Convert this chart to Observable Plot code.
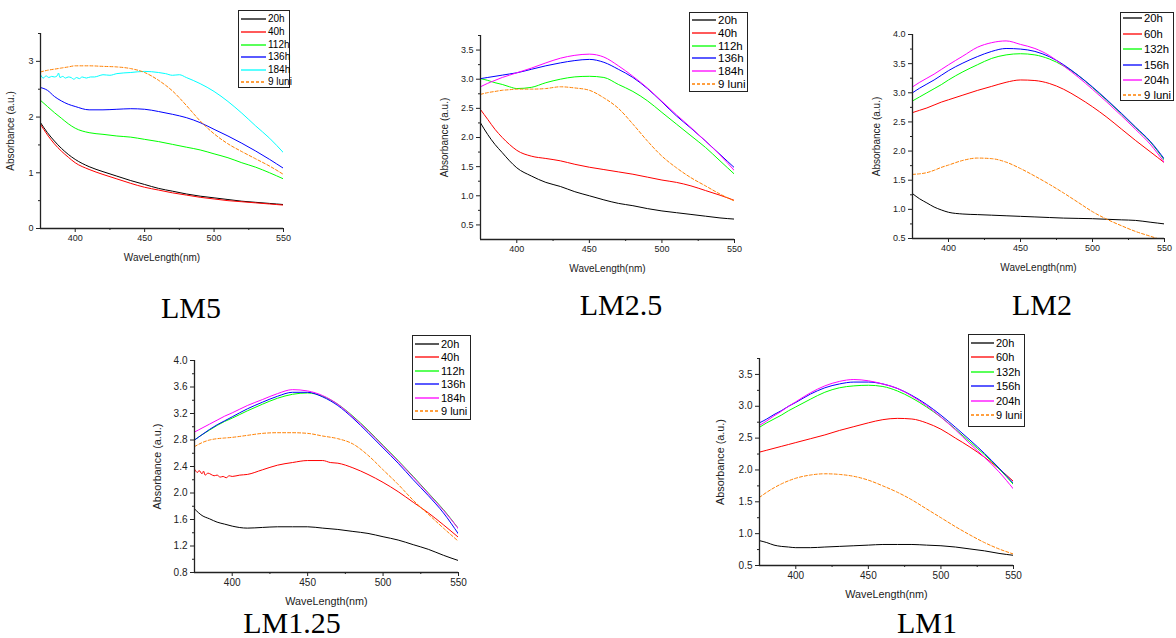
<!DOCTYPE html>
<html><head><meta charset="utf-8">
<script src="https://cdn.jsdelivr.net/npm/d3@7"></script>
<script src="https://cdn.jsdelivr.net/npm/@observablehq/plot@0.6"></script>
<style>
body{margin:0;background:#fff;}
#root{position:relative;width:1176px;height:638px;overflow:hidden;background:#fff;font-family:"Liberation Sans",Arial,sans-serif;}
.panel{position:absolute;}
.legend{position:absolute;border:1px solid #222;background:#fff;box-sizing:border-box;color:#000;}
.legend .row{position:absolute;left:0;display:flex;align-items:center;white-space:nowrap;}
.title{position:absolute;font-family:"Liberation Serif","Times New Roman",serif;font-size:30px;line-height:30px;transform:translateX(-50%);white-space:nowrap;color:#000;}
</style>
</head><body>
<div id="root"></div>
<script>
// ---------- data ----------
const wl = [375,380,385,390,395,400,410,420,430,440,450,460,470,480,490,500,510,520,530,540,550];
const xTicks = [400,450,500,550];
const xMinor = [425,475,525];

// LM5
const lm5Names = ["20h","40h","112h","136h","184h","9 luni"];
const lm5_20h  = [1.90,1.72,1.57,1.44,1.33,1.24,1.11,1.02,0.94,0.86,0.79,0.72,0.67,0.62,0.58,0.55,0.52,0.49,0.47,0.45,0.43];
const lm5_40h  = [1.87,1.68,1.52,1.39,1.28,1.18,1.06,0.97,0.89,0.81,0.74,0.69,0.64,0.60,0.56,0.53,0.50,0.48,0.46,0.44,0.42];
const lm5_112h = [2.30,2.19,2.08,1.98,1.88,1.80,1.72,1.69,1.66,1.64,1.60,1.56,1.51,1.46,1.41,1.34,1.27,1.18,1.10,1.00,0.89];
const lm5_136h = [2.53,2.48,2.37,2.29,2.23,2.19,2.13,2.13,2.14,2.15,2.14,2.10,2.05,1.99,1.90,1.78,1.66,1.53,1.39,1.24,1.08];
const lm5_184h_wl = [375,377,379,381,383,385,387,388,389,391,393,395,397,399,401,403,405,408,411,414,417,420,425,430,440,450,460,465,470,475,480,490,500,510,520,530,540,550];
const lm5_184h = [2.76,2.70,2.74,2.71,2.73,2.72,2.74,2.79,2.71,2.73,2.70,2.72,2.71,2.68,2.71,2.69,2.72,2.70,2.72,2.72,2.74,2.76,2.75,2.78,2.80,2.82,2.80,2.78,2.75,2.76,2.71,2.60,2.46,2.28,2.07,1.84,1.62,1.36];
const lm5_9luni = [2.81,2.84,2.86,2.88,2.90,2.92,2.92,2.91,2.90,2.87,2.80,2.66,2.47,2.21,1.93,1.70,1.52,1.38,1.25,1.12,0.97];
const lm5YTicks = [0,1,2,3];
const lm5YMinor = [0.5,1.5,2.5,3.5];

// LM2.5
const lm25Names = ["20h","40h","112h","136h","184h","9 luni"];
const lm25_20h  = [2.25,2.05,1.88,1.74,1.60,1.48,1.34,1.23,1.16,1.07,1.00,0.93,0.87,0.83,0.78,0.74,0.71,0.68,0.65,0.62,0.60];
const lm25_40h  = [2.48,2.31,2.14,2.00,1.88,1.78,1.68,1.64,1.60,1.54,1.49,1.45,1.41,1.37,1.32,1.27,1.23,1.17,1.09,1.01,0.92];
const lm25_112h = [3.01,2.98,2.94,2.91,2.87,2.84,2.86,2.94,3.00,3.04,3.05,3.03,2.91,2.79,2.63,2.43,2.23,2.03,1.83,1.60,1.37];
const lm25_136h = [3.01,3.03,3.05,3.07,3.09,3.11,3.17,3.23,3.28,3.32,3.34,3.29,3.17,3.03,2.84,2.61,2.37,2.16,1.94,1.71,1.48];
const lm25_184h = [2.87,2.93,2.98,3.03,3.07,3.11,3.19,3.28,3.36,3.41,3.43,3.38,3.23,3.05,2.85,2.62,2.39,2.17,1.94,1.70,1.43];
const lm25_9luni = [2.74,2.77,2.79,2.81,2.82,2.83,2.83,2.84,2.87,2.85,2.81,2.68,2.50,2.23,1.94,1.68,1.48,1.31,1.17,1.03,0.91];
const lm25YTicks = [0.5,1.0,1.5,2.0,2.5,3.0,3.5];
const lm25YMinor = [0.75,1.25,1.75,2.25,2.75,3.25,3.75];

// LM2
const lm2Names = ["20h","60h","132h","156h","204h","9 luni"];
const lm2_20h  = [1.27,1.18,1.11,1.04,0.99,0.95,0.92,0.91,0.90,0.89,0.88,0.87,0.86,0.85,0.845,0.84,0.83,0.82,0.81,0.78,0.75];
const lm2_60h  = [2.66,2.70,2.74,2.79,2.84,2.88,2.96,3.04,3.11,3.18,3.22,3.21,3.16,3.06,2.92,2.76,2.58,2.38,2.18,1.99,1.80];
const lm2_132h = [2.86,2.93,3.00,3.07,3.14,3.22,3.36,3.48,3.59,3.65,3.67,3.65,3.58,3.46,3.30,3.09,2.87,2.64,2.40,2.16,1.84];
const lm2_156h = [3.00,3.08,3.15,3.22,3.30,3.38,3.51,3.62,3.71,3.76,3.75,3.71,3.62,3.48,3.30,3.10,2.88,2.65,2.41,2.17,1.86];
const lm2_204h = [3.10,3.18,3.25,3.32,3.40,3.48,3.63,3.78,3.86,3.89,3.83,3.76,3.64,3.46,3.27,3.06,2.84,2.61,2.37,2.12,1.80];
const lm2_9luni = [1.60,1.61,1.63,1.67,1.72,1.76,1.84,1.88,1.87,1.81,1.70,1.57,1.43,1.28,1.12,0.96,0.83,0.72,0.62,0.54,0.46];
const lm2YTicks = [0.5,1.0,1.5,2.0,2.5,3.0,3.5,4.0];
const lm2YMinor = [0.75,1.25,1.75,2.25,2.75,3.25,3.75];

// LM1.25
const lm125Names = ["20h","40h","112h","136h","184h","9 luni"];
const lm125_20h  = [1.76,1.66,1.61,1.56,1.53,1.50,1.47,1.48,1.49,1.49,1.49,1.47,1.45,1.42,1.39,1.34,1.29,1.22,1.15,1.06,0.98];
const lm125_40h_wl = [375,377,378,380,381,382,384,386,388,390,392,394,396,398,400,405,410,420,430,440,450,460,465,470,480,490,500,510,520,530,540,550];
const lm125_40h  = [2.36,2.31,2.34,2.29,2.33,2.27,2.30,2.28,2.26,2.27,2.24,2.25,2.23,2.26,2.25,2.27,2.28,2.35,2.42,2.46,2.49,2.49,2.46,2.45,2.38,2.28,2.16,2.02,1.86,1.70,1.52,1.33];
const lm125_112h = [2.80,2.88,2.95,3.02,3.08,3.13,3.24,3.34,3.43,3.49,3.51,3.46,3.34,3.16,2.95,2.72,2.49,2.25,2.00,1.75,1.46];
const lm125_136h = [2.80,2.88,2.96,3.03,3.09,3.15,3.27,3.37,3.46,3.52,3.52,3.45,3.32,3.13,2.91,2.68,2.45,2.20,1.96,1.70,1.38];
const lm125_184h = [2.92,2.98,3.04,3.10,3.16,3.21,3.32,3.41,3.50,3.56,3.54,3.47,3.34,3.15,2.94,2.71,2.48,2.24,1.99,1.74,1.46];
const lm125_9luni = [2.70,2.76,2.80,2.82,2.83,2.84,2.87,2.90,2.91,2.91,2.90,2.86,2.82,2.74,2.57,2.35,2.13,1.89,1.68,1.47,1.27];
const lm125YTicks = [0.8,1.2,1.6,2.0,2.4,2.8,3.2,3.6,4.0];
const lm125YMinor = [1.0,1.4,1.8,2.2,2.6,3.0,3.4,3.8];

// LM1
const lm1Names = ["20h","60h","132h","156h","204h","9 luni"];
const lm1_20h  = [0.89,0.86,0.82,0.80,0.79,0.78,0.78,0.79,0.80,0.81,0.82,0.83,0.83,0.83,0.82,0.81,0.79,0.76,0.73,0.69,0.66];
const lm1_60h  = [2.28,2.31,2.34,2.37,2.40,2.43,2.49,2.55,2.62,2.68,2.74,2.79,2.81,2.80,2.74,2.64,2.50,2.36,2.20,2.02,1.82];
const lm1_132h = [2.67,2.74,2.80,2.86,2.93,2.99,3.11,3.22,3.29,3.32,3.33,3.31,3.24,3.13,2.99,2.83,2.64,2.44,2.24,2.02,1.77];
const lm1_156h = [2.74,2.80,2.87,2.93,3.00,3.06,3.19,3.29,3.35,3.38,3.38,3.35,3.28,3.17,3.03,2.86,2.67,2.47,2.26,2.03,1.79];
const lm1_204h = [2.70,2.77,2.85,2.92,3.00,3.07,3.21,3.32,3.39,3.42,3.40,3.35,3.28,3.16,3.01,2.83,2.63,2.41,2.20,1.97,1.70];
const lm1_9luni = [1.57,1.65,1.72,1.78,1.83,1.87,1.92,1.94,1.93,1.90,1.84,1.75,1.65,1.53,1.39,1.25,1.11,0.98,0.86,0.76,0.68];
const lm1YTicks = [0.5,1.0,1.5,2.0,2.5,3.0,3.5];
const lm1YMinor = [0.75,1.25,1.75,2.25,2.75,3.25,3.75];

const colors5 = ["#000000","#ff0000","#00ff00","#0000ff","#00ffff","#ff8000"];
const colorsM = ["#000000","#ff0000","#00ff00","#0000ff","#ff00ff","#ff8000"];

// ---------- panels (data refs + layout) ----------
const panels = [
  {title:"LM5", names:lm5Names, colors:colors5,
   series:[lm5_20h,lm5_40h,lm5_112h,lm5_136h,lm5_184h,lm5_9luni],
   xs:[wl,wl,wl,wl,lm5_184h_wl,wl],
   yDomain:[0,3.5], yTicks:lm5YTicks, yMinor:lm5YMinor, fmt:d3.format("d"),
   L:40,R:283,T:33,B:228, yLab:34, tickFs:9, labFs:10, titleX:191, titleY:318,
   leg:{left:238,top:10,w:52,h:78,first:19.3,step:12.6,sw:25,fs:10,pad:2}},
  {title:"LM2.5", names:lm25Names, colors:colorsM,
   series:[lm25_20h,lm25_40h,lm25_112h,lm25_136h,lm25_184h,lm25_9luni],
   xs:[wl,wl,wl,wl,wl,wl],
   yDomain:[0.25,3.75], yTicks:lm25YTicks, yMinor:lm25YMinor, fmt:d3.format(".1f"),
   L:480,R:734,T:35,B:239, yLab:40, tickFs:9, labFs:10, titleX:621, titleY:315,
   leg:{left:689,top:12,w:59,h:80,first:20,step:12.8,sw:24,fs:11.5,pad:2}},
  {title:"LM2", names:lm2Names, colors:colorsM,
   series:[lm2_20h,lm2_60h,lm2_132h,lm2_156h,lm2_204h,lm2_9luni],
   xs:[wl,wl,wl,wl,wl,wl],
   yDomain:[0.5,4.0], yTicks:lm2YTicks, yMinor:lm2YMinor, fmt:d3.format(".1f"),
   L:912,R:1164,T:34,B:238, yLab:40, tickFs:9, labFs:10, titleX:1042, titleY:315,
   leg:{left:1120,top:12,w:54,h:89,first:18.3,step:15.4,sw:19,fs:11.3,pad:2}},
  {title:"LM1.25", names:lm125Names, colors:colorsM,
   series:[lm125_20h,lm125_40h,lm125_112h,lm125_136h,lm125_184h,lm125_9luni],
   xs:[wl,lm125_40h_wl,wl,wl,wl,wl],
   yDomain:[0.8,4.0], yTicks:lm125YTicks, yMinor:lm125YMinor, fmt:d3.format(".1f"),
   L:194,R:458,T:360,B:572, yLab:41, tickFs:10, labFs:10.8, titleX:292, titleY:633,
   leg:{left:412,top:335,w:59,h:85,first:344,step:13.4,sw:24,fs:11,pad:2}},
  {title:"LM1", names:lm1Names, colors:colorsM,
   series:[lm1_20h,lm1_60h,lm1_132h,lm1_156h,lm1_204h,lm1_9luni],
   xs:[wl,wl,wl,wl,wl,wl],
   yDomain:[0.5,3.75], yTicks:lm1YTicks, yMinor:lm1YMinor, fmt:d3.format(".1f"),
   L:759,R:1013,T:358,B:565, yLab:43, tickFs:10, labFs:10.8, titleX:927, titleY:633,
   leg:{left:968,top:334,w:57,h:93,first:343,step:14.4,sw:23,fs:11,pad:2}}
];

const root = document.getElementById("root");
const mL = 50, mR = 10, mT = 8, mB = 40;

panels.forEach(p => {
  const rows = [];
  p.series.forEach((vals, si) => {
    const xs = p.xs[si];
    vals.forEach((v, i) => rows.push({wl: xs[i], a: v, s: p.names[si]}));
  });
  const lines = p.names.map((n, si) => Plot.line(rows.filter(r => r.s === n), {
    x: "wl", y: "a", stroke: p.colors[si], strokeWidth: 1,
    strokeDasharray: n === "9 luni" ? "3,2" : null, curve: "monotone-x", clip: true
  }));
  const width = p.R - p.L + mL + mR;
  const height = p.B - p.T + mT + mB;
  const chart = Plot.plot({
    width, height, marginLeft: mL, marginRight: mR, marginTop: mT, marginBottom: mB,
    x: {domain: [375, 550]},
    y: {domain: p.yDomain},
    style: {fontFamily: "'Liberation Sans', Arial, sans-serif", color: "#222", background: "transparent", overflow: "visible"},
    marks: [
      ...lines,
      Plot.ruleX([375], {strokeWidth: 1.3, stroke: "#222"}),
      Plot.ruleY([p.yDomain[0]], {strokeWidth: 1.3, stroke: "#222"}),
      Plot.axisX(xTicks, {tickSize: 4, tickPadding: 2, fontSize: p.tickFs, tickFormat: d3.format("d"), label: null}),
      Plot.axisX(xMinor, {tickSize: 2, fill: "none", label: null}),
      Plot.axisX([], {tickSize: 0, label: "WaveLength(nm)", labelAnchor: "center", labelArrow: "none", labelOffset: 32, fontSize: p.labFs}),
      Plot.axisY(p.yTicks, {tickSize: 4, tickPadding: 3, fontSize: p.tickFs, tickFormat: p.fmt, label: null}),
      Plot.axisY(p.yMinor, {tickSize: 2, fill: "none", label: null}),
      Plot.axisY([], {tickSize: 0, label: "Absorbance (a.u.)", labelAnchor: "center", labelArrow: "none", labelOffset: p.yLab, fontSize: p.labFs})
    ]
  });
  const div = document.createElement("div");
  div.className = "panel";
  div.style.left = (p.L - mL) + "px";
  div.style.top = (p.T - mT) + "px";
  div.style.width = width + "px";
  div.style.height = height + "px";
  div.appendChild(chart);
  root.appendChild(div);

  // legend
  const lg = p.leg;
  const box = document.createElement("div");
  box.className = "legend";
  box.style.left = lg.left + "px";
  box.style.top = lg.top + "px";
  box.style.width = lg.w + "px";
  box.style.height = lg.h + "px";
  box.style.fontSize = lg.fs + "px";
  p.names.forEach((n, si) => {
    const row = document.createElement("div");
    row.className = "row";
    const cy = lg.first + si * lg.step - lg.top - 1;
    row.style.top = (cy - 7) + "px";
    row.style.height = "14px";
    row.style.paddingLeft = lg.pad + "px";
    const dash = n === "9 luni" ? ' stroke-dasharray="3,2"' : "";
    row.innerHTML = `<svg width="${lg.sw}" height="6" style="display:block"><line x1="0" y1="3" x2="${lg.sw}" y2="3" stroke="${p.colors[si]}" stroke-width="1.3"${dash}/></svg><span style="margin-left:2px;line-height:14px">${n}</span>`;
    box.appendChild(row);
  });
  root.appendChild(box);

  // title
  const t = document.createElement("div");
  t.className = "title";
  t.textContent = p.title;
  t.style.left = p.titleX + "px";
  t.style.top = (p.titleY - 25) + "px";
  root.appendChild(t);
});
</script>
</body></html>
